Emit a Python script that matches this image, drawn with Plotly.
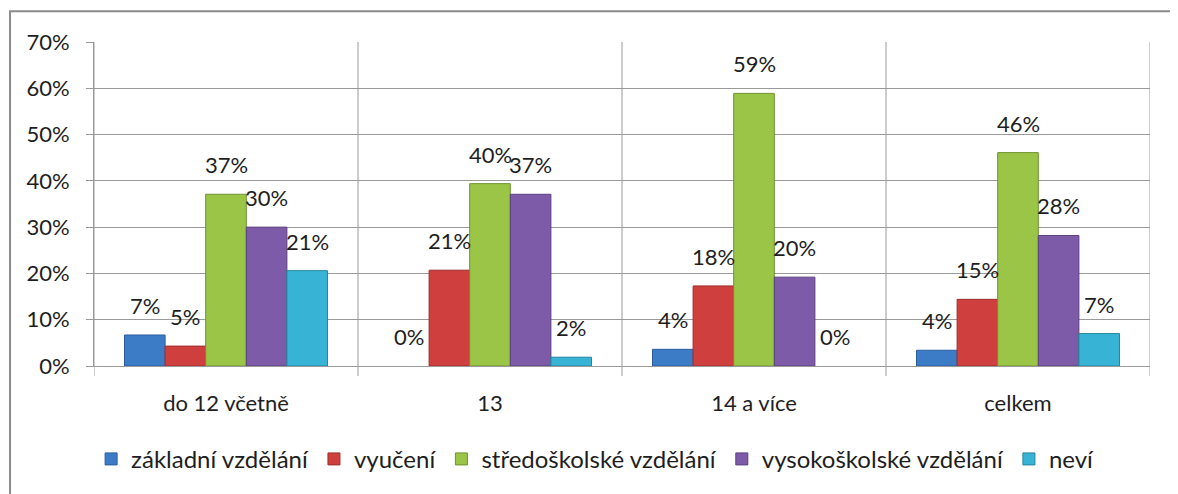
import plotly.graph_objects as go

categories = ["do 12 včetně", "13", "14 a více", "celkem"]
series_names = ["základní vzdělání", "vyučení", "středoškolské vzdělání",
                "vysokoškolské vzdělání", "neví"]
zakladni = [0.067, 0.0, 0.036, 0.034]
vyuceni = [0.043, 0.207, 0.173, 0.144]
stredoskolske = [0.371, 0.394, 0.589, 0.461]
vysokoskolske = [0.300, 0.371, 0.192, 0.282]
nevi = [0.206, 0.019, 0.0, 0.070]
labels_zakladni = ["7%", "0%", "4%", "4%"]
labels_vyuceni = ["5%", "21%", "18%", "15%"]
labels_stredoskolske = ["37%", "40%", "59%", "46%"]
labels_vysokoskolske = ["30%", "37%", "20%", "28%"]
labels_nevi = ["21%", "2%", "0%", "7%"]
y_ticks = [0, 0.1, 0.2, 0.3, 0.4, 0.5, 0.6, 0.7]

values = [zakladni, vyuceni, stredoskolske, vysokoskolske, nevi]
labels = [labels_zakladni, labels_vyuceni, labels_stredoskolske,
          labels_vysokoskolske, labels_nevi]
colors = ["#3C7BC6", "#CF3F3E", "#9BC547", "#7D5BA9", "#36B3D5"]
edge = ["#2B5E9C", "#9E2E2D", "#6F9230", "#5B4080", "#23869F"]

FONT = "Lato"
TXT = "#1e1e1e"
GRID = "#9a9a9a"

bargap = 0.231
n = len(series_names)
w = (1 - bargap) / n

fig = go.Figure()
for j, name in enumerate(series_names):
    fig.add_trace(go.Bar(
        x=categories, y=values[j], name=name,
        marker=dict(color=colors[j],
                    line=dict(color=edge[j],
                              width=[1 if v > 0 else 0 for v in values[j]])),
        hoverinfo="skip",
    ))

annotations = []
for j in range(n):
    for i, cat in enumerate(categories):
        annotations.append(dict(
            x=i + (j - (n - 1) / 2) * w, y=values[j][i], xref="x", yref="y",
            text=labels[j][i], showarrow=False, yanchor="bottom", xanchor="center",
            yshift=14, font=dict(family=FONT, size=22, color=TXT),
        ))

shapes = []
for b in range(len(categories) + 1):
    shapes.append(dict(
        type="line", xref="x", yref="paper", x0=b - 0.5, x1=b - 0.5,
        y0=-0.031, y1=1, line=dict(color=GRID, width=1), layer="below",
    ))
# outer chart border
shapes.append(dict(
    type="rect", xref="paper", yref="paper",
    x0=-0.0795, x1=1.0246, y0=-0.45, y1=1.0951,
    line=dict(color="#8a8a8a", width=2), fillcolor="rgba(0,0,0,0)",
))

fig.update_layout(
    width=1170, height=486,
    margin=dict(l=86, r=28, t=34, b=126),
    barmode="group", bargap=bargap, bargroupgap=0,
    paper_bgcolor="white", plot_bgcolor="white",
    font=dict(family=FONT, size=22, color=TXT),
    showlegend=True,
    legend=dict(
        orientation="h", x=0.475, xanchor="center", y=-0.288, yanchor="middle",
        font=dict(family=FONT, size=24, color=TXT), itemwidth=30,
        traceorder="normal", bgcolor="rgba(0,0,0,0)",
    ),
    annotations=annotations,
    shapes=shapes,
)
fig.update_xaxes(
    type="category", range=[-0.5, len(categories) - 0.5],
    showgrid=False, ticks="", showline=True, linecolor=GRID, linewidth=1,
    tickfont=dict(family=FONT, size=22, color=TXT), ticklabelstandoff=18,
    fixedrange=True,
)
fig.update_yaxes(
    range=[0, 0.7], tickvals=y_ticks, tickformat=".0%",
    showgrid=True, gridcolor=GRID, gridwidth=1,
    ticks="outside", ticklen=7, tickcolor=GRID,
    showline=True, linecolor=GRID, linewidth=1, zeroline=False,
    tickfont=dict(family=FONT, size=22, color=TXT), ticklabelstandoff=12,
    fixedrange=True,
)

fig.write_html("out.html")
